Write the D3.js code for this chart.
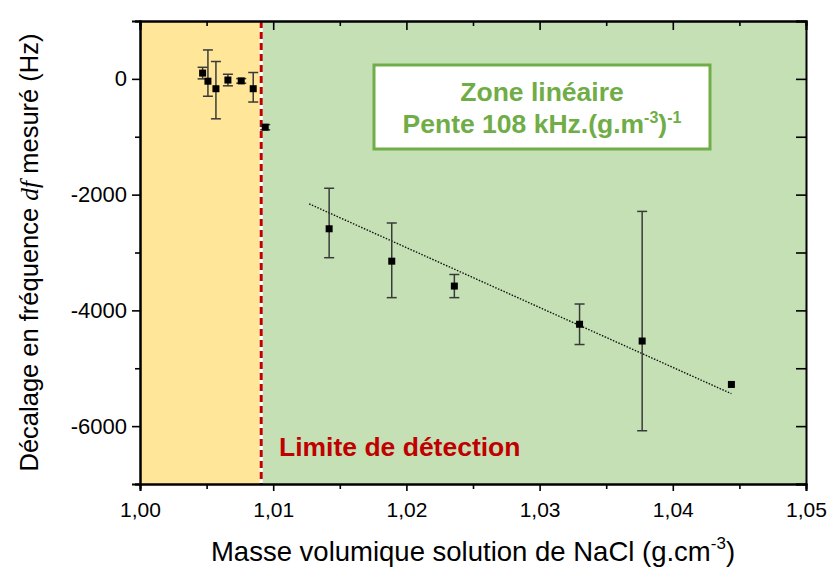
<!DOCTYPE html>
<html><head><meta charset="utf-8">
<script src="https://cdn.jsdelivr.net/npm/d3@7"></script>
<style>body{margin:0;background:#fff}svg{display:block}text{font-family:Arial,"Liberation Sans",sans-serif}</style>
</head><body>
<svg id="c" width="832" height="569"></svg>
<script>
// ---- data ----
const density  = [1.0047, 1.0051, 1.0057, 1.0066, 1.0076, 1.0085, 1.0094, 1.0142, 1.0189, 1.0236, 1.0330, 1.0377, 1.0444];
const freqShift = [100, -40, -170, -20, -35, -170, -835, -2590, -3150, -3580, -4240, -4530, -5280];
const errPlus  = [100, 540, 470, 100, 40, 280, 45, 700, 660, 200, 350, 2240, 0];
const errMinus = [100, 260, 520, 100, 40, 230, 45, 500, 630, 200, 350, 1550, 0];
const fitX = [1.0127, 1.0444];
const fitY = [-2160, -5440];
const detectionLimit = 1.0091;
const xDomain = [1.00, 1.05];
const yDomain = [-7000, 1000];
const xTickLabels = ["1,00","1,01","1,02","1,03","1,04","1,05"];
const yTickValues = [0, -2000, -4000, -6000];

(function(){
const W = 832, H = 569;
const m = {l:140, r:26, t:21, b:85};
const svg = d3.select("#c");
const x = d3.scaleLinear().domain(xDomain).range([m.l, W - m.r]);
const y = d3.scaleLinear().domain(yDomain).range([H - m.b, m.t]);

// backgrounds
svg.append("rect").attr("x", x(xDomain[0])).attr("y", y(yDomain[1]))
  .attr("width", x(detectionLimit) - x(xDomain[0])).attr("height", y(yDomain[0]) - y(yDomain[1]))
  .attr("fill", "#FFE699");
svg.append("rect").attr("x", x(detectionLimit)).attr("y", y(yDomain[1]))
  .attr("width", x(xDomain[1]) - x(detectionLimit)).attr("height", y(yDomain[0]) - y(yDomain[1]))
  .attr("fill", "#C5E0B4");

// detection limit line
svg.append("line").attr("x1", x(detectionLimit)).attr("x2", x(detectionLimit))
  .attr("y1", y(yDomain[1])).attr("y2", y(yDomain[0]))
  .attr("stroke", "#fff").attr("stroke-width", 3);
svg.append("line").attr("x1", x(detectionLimit)).attr("x2", x(detectionLimit))
  .attr("y1", y(yDomain[1])).attr("y2", y(yDomain[0]))
  .attr("stroke", "#C00000").attr("stroke-width", 3).attr("stroke-dasharray", "7,4");

// fit line
svg.append("line").attr("x1", x(fitX[0])).attr("y1", y(fitY[0]))
  .attr("x2", x(fitX[1])).attr("y2", y(fitY[1]))
  .attr("stroke", "#111").attr("stroke-width", 1.4).attr("stroke-dasharray", "1.5,1.5");

// error bars
const pts = density.map((d, i) => ({x: d, y: freqShift[i], ep: errPlus[i], em: errMinus[i]}));
const eb = svg.append("g").attr("stroke", "#3a3a3a").attr("stroke-width", 1.5);
pts.filter(p => p.ep > 0 || p.em > 0).forEach(p => {
  const cx = x(p.x);
  eb.append("line").attr("x1", cx).attr("x2", cx).attr("y1", y(p.y + p.ep)).attr("y2", y(p.y - p.em));
  eb.append("line").attr("x1", cx - 5).attr("x2", cx + 5).attr("y1", y(p.y + p.ep)).attr("y2", y(p.y + p.ep));
  eb.append("line").attr("x1", cx - 5).attr("x2", cx + 5).attr("y1", y(p.y - p.em)).attr("y2", y(p.y - p.em));
});
// markers
svg.append("g").selectAll("rect").data(pts).join("rect")
  .attr("x", d => x(d.x) - 3.5).attr("y", d => y(d.y) - 3.5)
  .attr("width", 7).attr("height", 7).attr("fill", "#000");

// axes
const xMajor = d3.range(0, 6).map(i => xDomain[0] + i * 0.01);
const xMinor = d3.range(0, 5).map(i => 1.005 + i * 0.01);
const yMinor = [1000, -1000, -3000, -5000, -7000];

svg.append("g").attr("transform", `translate(0,${H - m.b})`)
  .call(d3.axisBottom(x).tickValues(xMajor).tickSize(7).tickPadding(11)
    .tickFormat((d, i) => xTickLabels[i]));
svg.append("g").attr("transform", `translate(0,${H - m.b})`)
  .call(d3.axisBottom(x).tickValues(xMinor).tickSize(5).tickFormat(""));
svg.append("g").attr("transform", `translate(0,${m.t})`)
  .call(d3.axisTop(x).tickValues(xMajor).tickSize(-9).tickFormat(""));
svg.append("g").attr("transform", `translate(0,${m.t})`)
  .call(d3.axisTop(x).tickValues(xMinor).tickSize(-5).tickFormat(""));
svg.append("g").attr("class", "yl").attr("transform", `translate(${m.l},0)`)
  .call(d3.axisLeft(y).tickValues(yTickValues).tickSize(8).tickPadding(5).tickFormat(d => String(d)));
svg.append("g").attr("transform", `translate(${m.l},0)`)
  .call(d3.axisLeft(y).tickValues(yMinor).tickSize(5).tickFormat(""));
svg.append("g").attr("transform", `translate(${W - m.r},0)`)
  .call(d3.axisRight(y).tickValues(yTickValues.concat(yMinor)).tickSize(-10).tickFormat(""));

svg.selectAll(".domain").attr("stroke", "#000").attr("stroke-width", 2);
svg.selectAll(".tick line").attr("stroke", "#000").attr("stroke-width", 1.6);
svg.selectAll(".tick text").attr("font-size", 21).attr("fill", "#000")
  .style("font-family", "Arial, 'Liberation Sans', sans-serif");
svg.selectAll(".yl .tick text").attr("font-size", 22);

// annotation box
const box = svg.append("g");
box.append("rect").attr("x", 374).attr("y", 65).attr("width", 336).attr("height", 84)
  .attr("fill", "#fff").attr("stroke", "#70AD47").attr("stroke-width", 3);
box.append("text").attr("x", 542).attr("y", 101).attr("text-anchor", "middle")
  .attr("font-size", 26.5).attr("font-weight", "bold").attr("fill", "#70AD47").text("Zone linéaire");
const t2 = box.append("text").attr("x", 542).attr("y", 133).attr("text-anchor", "middle")
  .attr("font-size", 26.5).attr("font-weight", "bold").attr("fill", "#70AD47");
t2.append("tspan").text("Pente 108 kHz.(g.m");
t2.append("tspan").attr("dy", -10).attr("font-size", 16).text("-3");
t2.append("tspan").attr("dy", 10).text(")");
t2.append("tspan").attr("dy", -10).attr("font-size", 16).text("-1");

// detection label
svg.append("text").attr("x", 279).attr("y", 456).attr("font-size", 26.5).attr("font-weight", "bold")
  .attr("fill", "#C00000").text("Limite de détection");

// axis titles
const xt = svg.append("text").attr("x", (m.l + W - m.r) / 2).attr("y", 561).attr("text-anchor", "middle")
  .attr("font-size", 27.5).attr("fill", "#000");
xt.append("tspan").text("Masse volumique solution de NaCl (g.cm");
xt.append("tspan").attr("dy", -12).attr("font-size", 17).text("-3");
xt.append("tspan").attr("dy", 12).text(")");

const yt = svg.append("text").attr("transform", `translate(38,${(m.t + H - m.b) / 2}) rotate(-90)`)
  .attr("text-anchor", "middle").attr("font-size", 25.5).attr("fill", "#000");
yt.append("tspan").text("Décalage en fréquence ");
yt.append("tspan").attr("font-family", "'Liberation Serif', 'DejaVu Serif', serif").attr("font-style", "italic").text("df");
yt.append("tspan").text(" mesuré (Hz)");
})();
</script>
</body></html>
